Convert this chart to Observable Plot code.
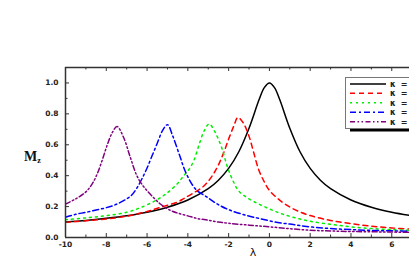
<!DOCTYPE html>
<html><head><meta charset="utf-8">
<script src="https://cdn.jsdelivr.net/npm/d3@7"></script>
<script src="https://cdn.jsdelivr.net/npm/@observablehq/plot@0.6"></script>
<style>body{margin:0;background:#fff;overflow:hidden}</style>
</head><body><div id="chart"></div>
<script>
// ---- data ----
// legend labels: only "κ =" is visible in the reference (the values are cut off by the window edge)
const seriesLabels = ["κ =", "κ =", "κ =", "κ =", "κ ="];
const seriesColors = ["#000000", "#ff0000", "#00ee00", "#0000ff", "#800080"];
const seriesDashes = [null, "5,4", "2,4", "6,3,2,3", "5,2.5,1.5,2.5,1.5,2.5"];

const lam0 = [-10,-9,-8,-7,-6,-5,-4,-3,-2.5,-2,-1.5,-1,-0.5,-0.25,0,0.25,0.5,1,1.5,2,2.5,3,4,5,6,7];
const m0   = [0.10,0.11,0.124,0.141,0.164,0.196,0.243,0.316,0.371,0.447,0.555,0.707,0.894,0.97,1.0,0.97,0.894,0.707,0.555,0.447,0.371,0.316,0.243,0.196,0.164,0.141];

const lam1 = [-10,-9,-8,-7,-6,-5.35,-4.5,-4.2,-3.7,-3.2,-2.8,-2.5,-2.24,-2.0,-1.75,-1.55,-1.3,-1.0,-0.77,-0.53,-0.25,0,0.5,1,1.5,2,3,4,5,6,7];
const m1   = [0.099,0.108,0.12,0.138,0.168,0.195,0.23,0.252,0.29,0.335,0.40,0.47,0.55,0.637,0.72,0.776,0.745,0.655,0.55,0.44,0.36,0.305,0.242,0.197,0.165,0.142,0.11,0.09,0.073,0.062,0.053];

const lam2 = [-10,-9,-8,-7,-6.2,-5.5,-5,-4.5,-4.2,-3.95,-3.7,-3.45,-3.2,-2.95,-2.7,-2.5,-2.3,-2.08,-1.83,-1.5,-1,-0.5,0,0.5,1,1.5,2,3,4,5,6,7];
const m2   = [0.115,0.127,0.142,0.163,0.20,0.245,0.29,0.35,0.40,0.44,0.50,0.60,0.69,0.735,0.69,0.635,0.565,0.465,0.38,0.30,0.25,0.215,0.185,0.158,0.137,0.12,0.105,0.085,0.069,0.058,0.051,0.046];

const lam3 = [-10,-9.5,-9,-8.5,-8,-7.5,-7,-6.75,-6.5,-6.25,-6,-5.75,-5.5,-5.25,-5.0,-4.75,-4.4,-4.1,-3.6,-3.1,-2.6,-2,-1.1,-0.4,0.4,1,1.5,2.2,3,4,5,6,7];
const m3   = [0.131,0.15,0.163,0.178,0.193,0.215,0.25,0.275,0.32,0.38,0.45,0.53,0.61,0.69,0.73,0.66,0.53,0.42,0.31,0.265,0.22,0.18,0.142,0.12,0.097,0.087,0.077,0.066,0.058,0.051,0.046,0.043,0.04];

const lam4 = [-10,-9.5,-9,-8.7,-8.45,-8.2,-7.95,-7.7,-7.47,-7.15,-6.82,-6.5,-6.2,-5.84,-5.35,-4.85,-4.5,-4,-3.5,-3,-2.5,-2,-1,0,1,2,3,4,5,6,7];
const m4   = [0.217,0.25,0.295,0.345,0.41,0.50,0.60,0.68,0.718,0.647,0.518,0.40,0.335,0.28,0.217,0.175,0.158,0.14,0.122,0.112,0.10,0.092,0.08,0.069,0.057,0.047,0.042,0.039,0.037,0.035,0.034];

const xTicks = [-10,-8,-6,-4,-2,0,2,4,6];
const xMinor = [-9,-7,-5,-3,-1,1,3,5];
const yTicks = [0.0,0.2,0.4,0.6,0.8,1.0];
const yMinor = [0.1,0.3,0.5,0.7,0.9];

// ---- build table ----
const lams = [lam0, lam1, lam2, lam3, lam4];
const ms = [m0, m1, m2, m3, m4];
const rows = [];
lams.forEach((L, i) => L.forEach((x, j) => rows.push({s: i, x, y: ms[i][j]})));

const W = 409, H = 273, mL = 65, mR = 0, mT = 67, mB = 36;
const xDomain = [-10, 6.87], yDomain = [0, 1.1];
const pxX = (W - mL - mR) / (xDomain[1] - xDomain[0]);
const pxY = (H - mT - mB) / (yDomain[1] - yDomain[0]);
const majY = 4 / pxY, minY = 2.5 / pxY, majX = 4 / pxX, minX = 2.5 / pxX;
const frameColor = "#333";

const lineMarks = seriesLabels.map((lab, i) => Plot.line(rows.filter(r => r.s === i), {
  x: "x", y: "y", stroke: seriesColors[i], strokeWidth: 1.5,
  strokeDasharray: seriesDashes[i] || undefined, curve: "catmull-rom", clip: true
}));

const plot = Plot.plot({
  width: W, height: H, marginLeft: mL, marginRight: mR, marginTop: mT, marginBottom: mB,
  x: {domain: xDomain}, y: {domain: yDomain},
  style: {fontFamily: "'DejaVu Sans', sans-serif", fontSize: "7.5px", fontWeight: "bold", color: "#222", background: "#fff", overflow: "visible"},
  marks: [
    ...lineMarks,
    Plot.ruleX(xTicks, {x: d => d, y1: 0, y2: majY, stroke: frameColor}),
    Plot.ruleX(xMinor, {x: d => d, y1: 0, y2: minY, stroke: frameColor}),
    Plot.ruleX(xTicks, {x: d => d, y1: yDomain[1], y2: yDomain[1] - majY, stroke: frameColor}),
    Plot.ruleX(xMinor, {x: d => d, y1: yDomain[1], y2: yDomain[1] - minY, stroke: frameColor}),
    Plot.ruleY(yTicks, {y: d => d, x1: xDomain[0], x2: xDomain[0] + majX, stroke: frameColor}),
    Plot.ruleY(yMinor, {y: d => d, x1: xDomain[0], x2: xDomain[0] + minX, stroke: frameColor}),
    Plot.ruleY([yDomain[0], yDomain[1]], {stroke: frameColor, strokeWidth: 1.5}),
    Plot.ruleX([xDomain[0]], {stroke: frameColor, strokeWidth: 1.5}),
    Plot.axisX(xTicks, {tickSize: 0, tickPadding: 4, tickFormat: d => String(d), label: null}),
    Plot.axisY(yTicks, {tickSize: 0, tickPadding: 7, tickFormat: d => d.toFixed(1), label: null})
  ]
});
document.getElementById("chart").appendChild(plot);

// ---- axis titles and legend ----
const svg = d3.select(plot);
const yl = svg.append("text").attr("x", 24).attr("y", 160.5).attr("text-anchor", "start")
  .attr("font-family", "'Liberation Serif', 'DejaVu Serif', serif").attr("font-weight", "bold").attr("font-size", 14).attr("fill", "#111");
yl.append("tspan").text("M");
yl.append("tspan").attr("font-size", 8).attr("dy", 2.5).text("z");
svg.append("text").attr("x", 253).attr("y", 256).attr("text-anchor", "middle")
  .attr("font-family", "'DejaVu Sans', sans-serif").attr("font-weight", "normal").attr("font-size", 11).attr("fill", "#111").text("λ");

const lg = svg.append("g");
lg.append("rect").attr("x", 350).attr("y", 128.5).attr("width", 80).attr("height", 3).attr("fill", "#000");
lg.append("rect").attr("x", 345.5).attr("y", 77.5).attr("width", 80).attr("height", 51).attr("fill", "#fff").attr("stroke", "#777").attr("stroke-width", 1);
const ly = [84, 93.3, 102.7, 112.3, 121.7];
seriesLabels.forEach((lab, i) => {
  lg.append("line").attr("x1", 350).attr("x2", 386).attr("y1", ly[i]).attr("y2", ly[i])
    .attr("stroke", seriesColors[i]).attr("stroke-width", 1.5).attr("stroke-dasharray", seriesDashes[i]);
  lg.append("text").attr("x", 390).attr("y", ly[i] + 3).attr("text-anchor", "start").attr("font-family", "'DejaVu Sans', sans-serif")
    .attr("font-size", 8).attr("font-weight", "bold").attr("letter-spacing", 1.1).attr("fill", "#222").text(lab);
});
</script>
</body></html>
